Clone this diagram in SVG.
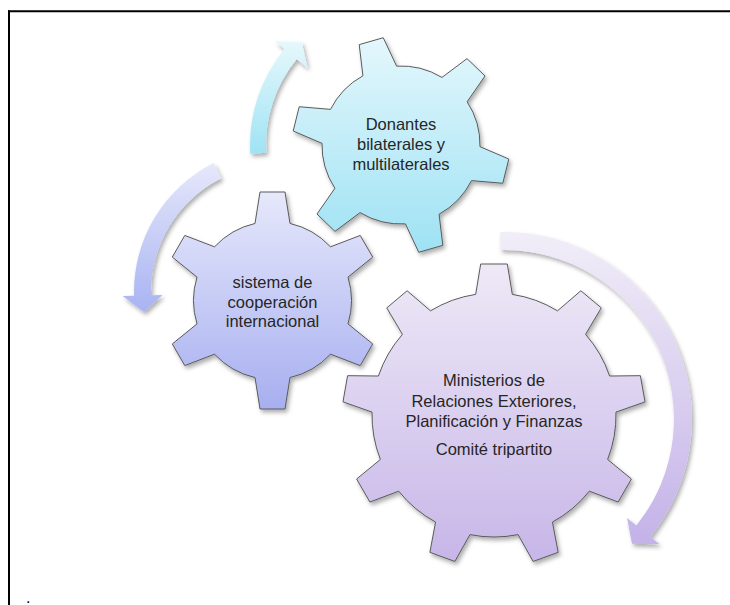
<svg xmlns="http://www.w3.org/2000/svg" width="730" height="605" viewBox="0 0 730 605">
<style>
.gear{stroke:#5a5a5a;stroke-width:1;stroke-linejoin:miter;filter:url(#sh)}
.arrow{stroke:none;filter:url(#sh)}
.lbl{font-family:"Liberation Sans",Arial,sans-serif;font-size:16.5px;fill:#262626;text-anchor:middle}
.frame{stroke:#000;stroke-width:2;fill:none}
</style>
<defs>
<filter id="sh" x="-10%" y="-10%" width="125%" height="125%">
<feDropShadow dx="2" dy="3" stdDeviation="2" flood-color="#000" flood-opacity="0.32"/>
</filter>
<linearGradient id="gCyan" x1="0" y1="0" x2="0" y2="1"><stop offset="0" stop-color="#e4f7fc"/><stop offset="1" stop-color="#9ee2f4"/></linearGradient>
<linearGradient id="gBlue" x1="0" y1="0" x2="0" y2="1"><stop offset="0" stop-color="#e6e8fb"/><stop offset="1" stop-color="#a7aff0"/></linearGradient>
<linearGradient id="gLav" x1="0" y1="0" x2="0" y2="1"><stop offset="0" stop-color="#eee9f7"/><stop offset="1" stop-color="#c7b6e8"/></linearGradient>
<linearGradient id="aCyan" x1="0" y1="0" x2="0" y2="1"><stop offset="0" stop-color="#e6f8fc"/><stop offset="1" stop-color="#9fe3f4"/></linearGradient>
<linearGradient id="aBlue" x1="0" y1="0" x2="0" y2="1"><stop offset="0" stop-color="#e6e8fb"/><stop offset="1" stop-color="#a8b3f2"/></linearGradient>
<linearGradient id="aLav" x1="0" y1="0" x2="0" y2="1"><stop offset="0" stop-color="#f1eef8"/><stop offset="1" stop-color="#c4b2e8"/></linearGradient>
</defs>
<g id="frame">
<line class="frame" x1="8" y1="11.3" x2="730" y2="11.3"/>
<line class="frame" x1="9" y1="10.3" x2="9" y2="605"/>
</g>
<g id="connectors">
<path id="arrow-donantes" class="arrow" fill="url(#aCyan)" d="M250.3,153.7 A151,151 0 0 1 284.5,48.9 L275.2,41.3 L301.7,42.1 L307.6,68 L296.8,59.1 A135,135 0 0 0 266.2,152.8 Z"/>
<path id="arrow-sistema" class="arrow" fill="url(#aBlue)" d="M213.7,163.1 A144,144 0 0 0 134.05,295.8 L122.55,296.1 L144,312 L162.5,295 L151.04,295.3 A127,127 0 0 1 221.3,178.3 Z"/>
<path id="arrow-ministerios" class="arrow" fill="url(#aLav)" d="M500.1,232.1 A187,187 0 0 1 650.3,536.7 L659.6,544.2 L632,543.8 L627,517.8 L636.3,525.4 A169,169 0 0 0 500.6,250.1 Z"/>
</g>
<g id="gear-ministerios">
<path class="gear" fill="url(#gLav)" d="M475.7,294.38 L480.7,264 L507.3,264 L512.3,294.38 A122,122 0 0 1 557.51,310.84 L580.87,290.78 L601.25,307.88 L585.55,334.36 A122,122 0 0 1 609.61,376.03 L640.4,375.68 L645.02,401.88 L615.97,412.08 A122,122 0 0 1 607.61,459.46 L631.42,478.98 L618.12,502.02 L589.31,491.16 A122,122 0 0 1 552.45,522.09 L558.14,552.34 L533.15,561.44 L518.06,534.61 A122,122 0 0 1 469.94,534.61 L454.85,561.44 L429.86,552.34 L435.55,522.09 A122,122 0 0 1 398.69,491.16 L369.88,502.02 L356.58,478.98 L380.39,459.46 A122,122 0 0 1 372.03,412.08 L342.98,401.88 L347.6,375.68 L378.39,376.03 A122,122 0 0 1 402.45,334.36 L386.75,307.88 L407.13,290.78 L430.49,310.84 A122,122 0 0 1 475.7,294.38 Z"/>
<text class="lbl" x="494" y="386">Ministerios de</text>
<text class="lbl" x="494" y="406.5">Relaciones Exteriores,</text>
<text class="lbl" x="494" y="426.5">Planificación y Finanzas</text>
<text class="lbl" x="494" y="455">Comité tripartito</text>
</g>
<g id="gear-sistema">
<path class="gear" fill="url(#gBlue)" d="M255,223.46 L260,192 L285,192 L290,223.46 A79,79 0 0 1 330.47,246.83 L360.21,235.43 L372.71,257.08 L347.97,277.14 A79,79 0 0 1 347.97,323.87 L372.71,343.93 L360.21,365.58 L330.47,354.18 A79,79 0 0 1 290,377.54 L285,409 L260,409 L255,377.54 A79,79 0 0 1 214.53,354.18 L184.79,365.58 L172.29,343.93 L197.03,323.87 A79,79 0 0 1 197.03,277.14 L172.29,257.08 L184.79,235.43 L214.53,246.83 A79,79 0 0 1 255,223.46 Z"/>
<text class="lbl" x="272.5" y="288">sistema de</text>
<text class="lbl" x="272.5" y="307.5">cooperación</text>
<text class="lbl" x="272.5" y="327">internacional</text>
</g>
<g id="gear-donantes">
<path class="gear" fill="url(#gCyan)" d="M362.94,75.77 L359.21,44.63 L383.25,37.73 L396.59,66.12 A79,79 0 0 1 441.93,77.43 L467.03,58.63 L485.01,75.99 L467.11,101.74 A79,79 0 0 1 479.99,146.66 L508.81,159 L502.77,183.26 L471.52,180.62 A79,79 0 0 1 439.06,214.23 L442.79,245.37 L418.75,252.27 L405.41,223.88 A79,79 0 0 1 360.07,212.58 L334.97,231.37 L316.99,214.01 L334.9,188.26 A79,79 0 0 1 322.01,143.34 L293.19,131 L299.23,106.74 L330.48,109.38 A79,79 0 0 1 362.94,75.77 Z"/>
<text class="lbl" x="401" y="130">Donantes</text>
<text class="lbl" x="401" y="150">bilaterales y</text>
<text class="lbl" x="401" y="169.5">multilaterales</text>
</g>
<text x="26" y="603" style="font-family:'Liberation Sans',Arial,sans-serif;font-size:16px;fill:#000">.</text>
</svg>
